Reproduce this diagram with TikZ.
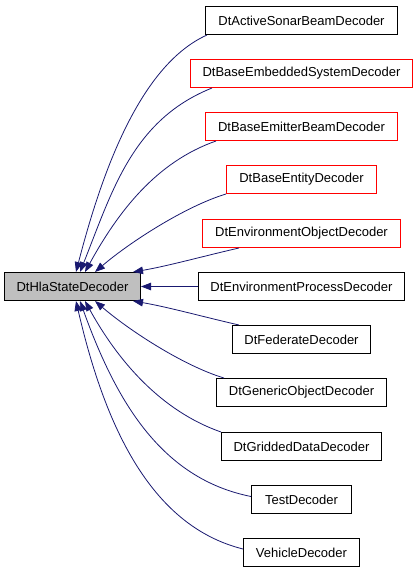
\documentclass[tikz,border=0pt]{standalone}
\usepackage{fontspec}
\setmainfont{Liberation Sans}
\usetikzlibrary{arrows.meta}
\definecolor{edgeblue}{HTML}{191970}
\definecolor{basegray}{HTML}{BFBFBF}
\definecolor{boxred}{rgb}{1,0,0}
\begin{document}
\begin{tikzpicture}[x=1pt,y=-1pt,
  cls/.style={draw=black, line width=1pt, fill=white, inner xsep=0pt, inner ysep=0pt, minimum height=28pt, font=\fontsize{13}{15}\selectfont, anchor=center},
  redcls/.style={cls, draw=boxred},
  basecls/.style={cls, fill=basegray},
  inh/.style={draw=edgeblue, line width=0.8pt, -{Triangle[length=10pt,width=7.5pt]}}]
\useasboundingbox (0,0) rectangle (419,573);
\node[basecls, minimum width=136pt] (hla) at (72.5,286.5) {DtHlaStateDecoder};
\node[cls,    minimum width=192pt] (n1)  at (301.5,20.5)  {DtActiveSonarBeamDecoder};
\node[redcls, minimum width=222pt] (n2)  at (301.5,73.5)  {DtBaseEmbeddedSystemDecoder};
\node[redcls, minimum width=192pt] (n3)  at (301.5,126.5) {DtBaseEmitterBeamDecoder};
\node[redcls, minimum width=150pt] (n4)  at (301.5,179.5) {DtBaseEntityDecoder};
\node[redcls, minimum width=198pt] (n5)  at (301.5,233.5) {DtEnvironmentObjectDecoder};
\node[cls,    minimum width=206pt] (n6)  at (301.5,286.5) {DtEnvironmentProcessDecoder};
\node[cls,    minimum width=138pt] (n7)  at (301.5,339.5) {DtFederateDecoder};
\node[cls,    minimum width=170pt] (n8)  at (301.5,392.5) {DtGenericObjectDecoder};
\node[cls,    minimum width=160pt] (n9)  at (301.5,446.5) {DtGriddedDataDecoder};
\node[cls,    minimum width=100pt] (n10) at (301.5,499.5) {TestDecoder};
\node[cls,    minimum width=116pt] (n11) at (301.5,552.5) {VehicleDecoder};

\draw[inh] ([xshift=2pt]n1.south west) .. controls +(-70,31.5) and +(23.4,-90) .. ([xshift=72pt]hla.north west);
\draw[inh] ([xshift=22pt]n2.south west) .. controls +(-80,32) and +(32,-80) .. ([xshift=76pt]hla.north west);
\draw[inh] ([xshift=11pt]n3.south west) .. controls +(-60,21) and +(33,-60) .. ([xshift=81pt]hla.north west);
\draw[inh] (n4.south west) .. controls +(-40,12) and +(35,-30) .. ([xshift=91pt]hla.north west);
\draw[inh] ([xshift=37pt]n5.south west) .. controls +(-35,8) and +(35,-6) .. ([xshift=-8pt]hla.north east);
\draw[inh] (n6.west) -- (hla.east);
\draw[inh] ([xshift=7pt]n7.north west) .. controls +(-35,-8) and +(35,6) .. ([xshift=-8pt]hla.south east);
\draw[inh] ([xshift=8pt]n8.north west) .. controls +(-40,-12) and +(35,30) .. ([xshift=91pt]hla.south west);
\draw[inh] (n9.north west) .. controls +(-60,-21) and +(33,60) .. ([xshift=81pt]hla.south west);
\draw[inh] ([yshift=3pt]n10.west) .. controls +(-90,-18) and +(36,100) .. ([xshift=76pt]hla.south west);
\draw[inh] ([yshift=3.5pt]n11.west) .. controls +(-90,-22.5) and +(30,130) .. ([xshift=72pt]hla.south west);
\end{tikzpicture}
\end{document}
